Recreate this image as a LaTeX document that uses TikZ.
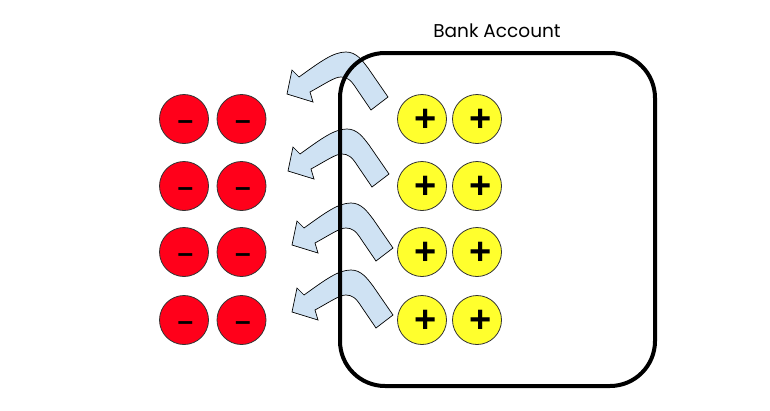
\documentclass[tikz,border=0pt]{standalone}
\usepackage{fontspec}
\newfontfamily\titlefont{Poppins}
\newfontfamily\signfont{Liberation Sans}
\definecolor{negred}{RGB}{255,0,26}
\definecolor{posyel}{RGB}{255,255,45}
\definecolor{arrblue}{RGB}{207,226,243}
\tikzset{
  charge/.style={circle, draw=black!80, line width=0.8pt, minimum size=49pt, inner sep=0pt},
  negcharge/.style={charge, fill=negred},
  poscharge/.style={charge, fill=posyel},
  negsign/.style={font=\signfont\bfseries\fontsize{28}{28}\selectfont, inner sep=0pt},
  possign/.style={font=\signfont\bfseries\fontsize{38}{38}\selectfont, inner sep=0pt},
  bentarrow/.style={fill=arrblue, draw=black, line width=0.7pt, line join=miter},
  account/.style={draw=black, line width=4pt, rounded corners=45pt, minimum width=315pt, minimum height=333pt, inner sep=0pt}
}
\newcommand{\negmark}{\raisebox{-10pt}[0pt][0pt]{–}}
\newcommand{\posmark}{\raisebox{-12pt}[0pt][0pt]{+}}
\begin{document}
\begin{tikzpicture}[x=1pt,y=-1pt]
\useasboundingbox (0,0) rectangle (770,410);
% arrows
\foreach \dx/\dy in {0/0, 1/77, 5/151, 5/218}{
  \draw[bentarrow, shift={(\dx,\dy)}]
    (287,94) -- (292,70) -- (299,77)
    .. controls (320,62) and (333,52) .. (346,52)
    .. controls (356,52) and (362,60) .. (368,68)
    -- (388,97) -- (371,110) -- (356,88)
    .. controls (351,80) and (347,77) .. (341,77)
    .. controls (335,77) and (328,82) .. (310,92)
    -- (313,102) -- cycle;
}
% account box
\node[account] (acct) at (497.5,219.5) {};
\node[font=\titlefont\fontsize{18.5}{18.5}\selectfont, inner sep=0pt] (title) at (497,31) {Bank Account};
% charges
\foreach \r/\y in {1/119, 2/186, 3/252, 4/320}{
  \node[negcharge] (na\r) at (184,\y) {};
  \node[negcharge] (nb\r) at (241.5,\y) {};
  \node[poscharge] (pa\r) at (422,\y) {};
  \node[poscharge] (pb\r) at (477,\y) {};
  \node[negsign, xshift=1.5pt] (sna\r) at (na\r) {\negmark};
  \node[negsign, xshift=1.5pt] (snb\r) at (nb\r) {\negmark};
  \node[possign, xshift=3.5pt] (spa\r) at (pa\r) {\posmark};
  \node[possign, xshift=3.5pt] (spb\r) at (pb\r) {\posmark};
}
\end{tikzpicture}
\end{document}
